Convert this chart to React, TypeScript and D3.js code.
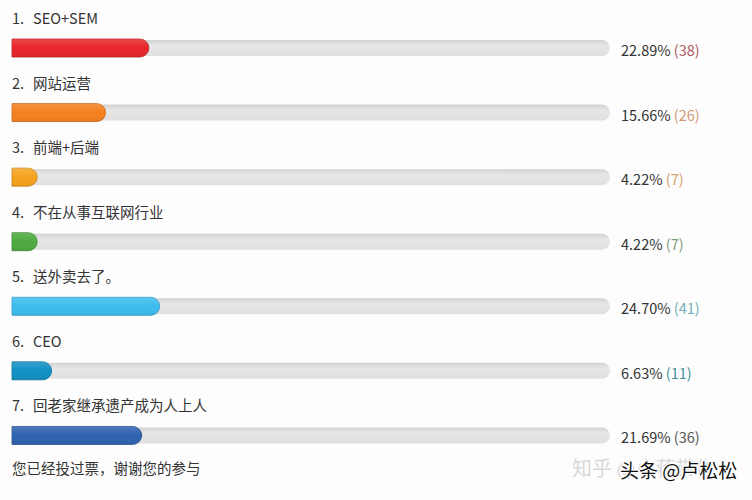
import React from 'react';
import * as d3 from 'd3';

const labels = ['SEO+SEM', '网站运营', '前端+后端', '不在从事互联网行业', '送外卖去了。', 'CEO', '回老家继承遗产成为人上人'];
const percents = [22.89, 15.66, 4.22, 4.22, 24.7, 6.63, 21.69];
const counts = [38, 26, 7, 7, 41, 11, 36];
const barColors = ['#e8262b', '#f57f1f', '#f5a31e', '#4daa3f', '#3dbdee', '#1190c4', '#2e62b0'];
const countColors = ['#b05a5e', '#cf9a72', '#d6a26e', '#7f9c80', '#70aebb', '#43909c', '#555555'];

const width = 752;
const height = 500;
const font = '"Noto Sans CJK SC", "Noto Sans", sans-serif';

// rect with rounded right end only
const barPath = (x0: number, x1: number, y: number, h: number) => {
  const r = Math.min(h / 2, (x1 - x0) / 2);
  return `M${x0},${y}H${x1 - r}A${r},${r} 0 0 1 ${x1},${y + r}V${y + h - r}A${r},${r} 0 0 1 ${x1 - r},${y + h}H${x0}Z`;
};

const App = () => {
  const x = d3.scaleLinear().domain([0, 100]).range([12, 610]);
  const y = d3.scaleBand<number>().domain(d3.range(labels.length)).range([16, 468]);
  const barH = 18;

  return (
    <div style={{ position: 'fixed', left: 0, top: 0 }}>
      <svg width={width} height={height} style={{ display: 'block', background: '#fdfdfd', fontFamily: font }}>
        <defs>
          <linearGradient id='track' x1='0' y1='0' x2='0' y2='1'>
            <stop offset='0' stopColor='#d2d2d2' />
            <stop offset='0.35' stopColor='#e6e6e6' />
            <stop offset='1' stopColor='#e0e0e0' />
          </linearGradient>
          <linearGradient id='shine' x1='0' y1='0' x2='0' y2='1'>
            <stop offset='0' stopColor='#fff' stopOpacity='0.15' />
            <stop offset='0.5' stopColor='#fff' stopOpacity='0' />
            <stop offset='1' stopColor='#000' stopOpacity='0.06' />
          </linearGradient>
        </defs>
        {labels.map((lab, i) => {
          const top = (y(i) as number);
          const cy = top + 32;
          const by = cy - barH / 2;
          return (
            <g key={i}>
              <text x={12} y={top + 8} fontSize={14.5} fill='#333'>{`${i + 1}.`}</text>
              <text x={33} y={top + 8} fontSize={14.5} fill='#333'>{lab}</text>
              <path d={barPath(x(0), x(100), by + 1, barH - 2)} fill='url(#track)' />
              <path d={barPath(x(0), x(percents[i]), by, barH)} fill={barColors[i]} stroke={d3.color(barColors[i])!.darker(0.6).toString()} strokeWidth={0.8} />
              <path d={barPath(x(0), x(percents[i]), by, barH)} fill='url(#shine)' />
              <text x={621} y={cy + 8} fontSize={14.5} fill='#333'>
                {`${percents[i].toFixed(2)}% `}
                <tspan fill={countColors[i]}>{`(${counts[i]})`}</tspan>
              </text>
            </g>
          );
        })}
        <text x={12} y={474} fontSize={14.5} fill='#333'>您已经投过票，谢谢您的参与</text>
        <text x={572} y={476} fontSize={20} fill='#d8d8d8'>知乎 @小蒋带你</text>
        <text x={620} y={478} fontSize={19} fill='#111' stroke='#fff' strokeWidth={2.5} paintOrder='stroke'>头条 @卢松松</text>
      </svg>
    </div>
  );
};

export default App;
